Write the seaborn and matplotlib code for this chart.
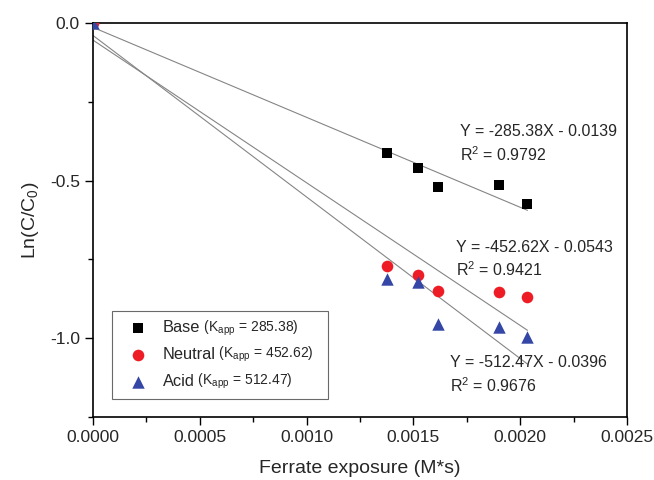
import numpy as np
import pandas as pd
import matplotlib
matplotlib.use("Agg")
import matplotlib.pyplot as plt
import seaborn as sns
from matplotlib.ticker import MultipleLocator, FormatStrFormatter

# ---- data ----
exposure = [0.0, 0.001378, 0.001521, 0.001615, 0.001901, 0.002034]
base_vals = [0.0, -0.413, -0.460, -0.519, -0.514, -0.575]
neutral_vals = [0.0, -0.770, -0.800, -0.849, -0.854, -0.869]
acid_vals = [0.0, -0.812, -0.821, -0.955, -0.964, -0.995]
series_names = ["Base", "Neutral", "Acid"]
kapp = ["285.38", "452.62", "512.47"]
slopes = [-285.38, -452.62, -512.47]
intercepts = [-0.0139, -0.0543, -0.0396]
r2 = ["0.9792", "0.9421", "0.9676"]
eq_texts = ["Y = -285.38X - 0.0139", "Y = -452.62X - 0.0543", "Y = -512.47X - 0.0396"]
xticks = [0.0, 0.0005, 0.0010, 0.0015, 0.0020, 0.0025]
yticks = [0.0, -0.5, -1.0]

df = pd.DataFrame({
    "x": exposure * 3,
    "y": base_vals + neutral_vals + acid_vals,
    "series": sum([[n] * len(exposure) for n in series_names], []),
})

sns.set_theme(style="white")
plt.rcParams['font.family'] = ['Liberation Sans', 'DejaVu Sans']
plt.rcParams['mathtext.fontset'] = 'custom'
plt.rcParams['mathtext.rm'] = 'Liberation Sans'
plt.rcParams['mathtext.it'] = 'Liberation Sans'

fig = plt.figure(figsize=(6.54, 4.8), dpi=100)
ax = fig.add_axes([93 / 654, 1 - 417 / 480, (627 - 93) / 654, (417 - 23) / 480])

colors = {"Base": "#000000", "Neutral": "#ee1c24", "Acid": "#3446a6"}
markers = {"Base": "s", "Neutral": "o", "Acid": "^"}
sizes = {"Base": 55, "Neutral": 70, "Acid": 80}

# fit lines
xmax = max(exposure)
xl = np.array([0.0, xmax])
for m, b in zip(slopes, intercepts):
    ax.plot(xl, m * xl + b, color="#858585", lw=0.8, zorder=1)

for name in series_names:
    sub = df[df.series == name]
    sns.scatterplot(data=sub, x="x", y="y", ax=ax, color=colors[name],
                    marker=markers[name], s=sizes[name], linewidth=0,
                    label=name, zorder=3)

ax.set_xlim(0, 0.0025)
ax.set_ylim(-1.25, 0)
ax.set_xticks(xticks)
ax.set_yticks(yticks)
ax.xaxis.set_major_formatter(FormatStrFormatter('%.4f'))
ax.yaxis.set_major_formatter(FormatStrFormatter('%.1f'))
ax.xaxis.set_minor_locator(MultipleLocator(0.00025))
ax.yaxis.set_minor_locator(MultipleLocator(0.25))
ax.tick_params(axis='both', which='major', direction='out', length=6, width=1,
               labelsize=12.5, bottom=True, left=True, top=False, right=False, color='black')
ax.tick_params(axis='both', which='minor', direction='out', length=3.5, width=1,
               bottom=True, left=True, top=False, right=False, color='black')
for sp in ax.spines.values():
    sp.set_color('black')
    sp.set_linewidth(1.2)

ax.set_xlabel("Ferrate exposure (M*s)", fontsize=14, labelpad=11)
ax.set_ylabel(r"Ln(C/C$_\mathregular{0}$)", fontsize=14, labelpad=6)

# equations
eq_pos = [(0.00172, -0.345), (0.00170, -0.712), (0.00167, -1.077)]
for (ex, ey), eq, r in zip(eq_pos, eq_texts, r2):
    ax.text(ex, ey, eq, fontsize=11.5, va='center', ha='left')
    ax.text(ex, ey - 0.072, r"R$^\mathregular{2}$ = " + r, fontsize=11.5, va='center', ha='left')

# legend
leg = ax.legend(loc='lower left', bbox_to_anchor=(0.035, 0.046, 0.405, 0.23),
                mode='expand', frameon=True, fontsize=11.8, handletextpad=0.5,
                borderpad=0.6, labelspacing=0.72, handlelength=2.0, fancybox=False,
                borderaxespad=0, edgecolor='#444444')
leg.get_frame().set_linewidth(0.8)
fig.canvas.draw()
inv = ax.transAxes.inverted()
for t, k in zip(leg.get_texts(), kapp):
    bb = t.get_window_extent()
    x1, ymid = inv.transform((bb.x1, (bb.y0 + bb.y1) / 2))
    ax.text(x1, ymid, r" (K$_\mathregular{app}$ = " + k + ")", transform=ax.transAxes,
            va='center', ha='left', fontsize=10, zorder=10)

fig.savefig("out.png", dpi=100)
